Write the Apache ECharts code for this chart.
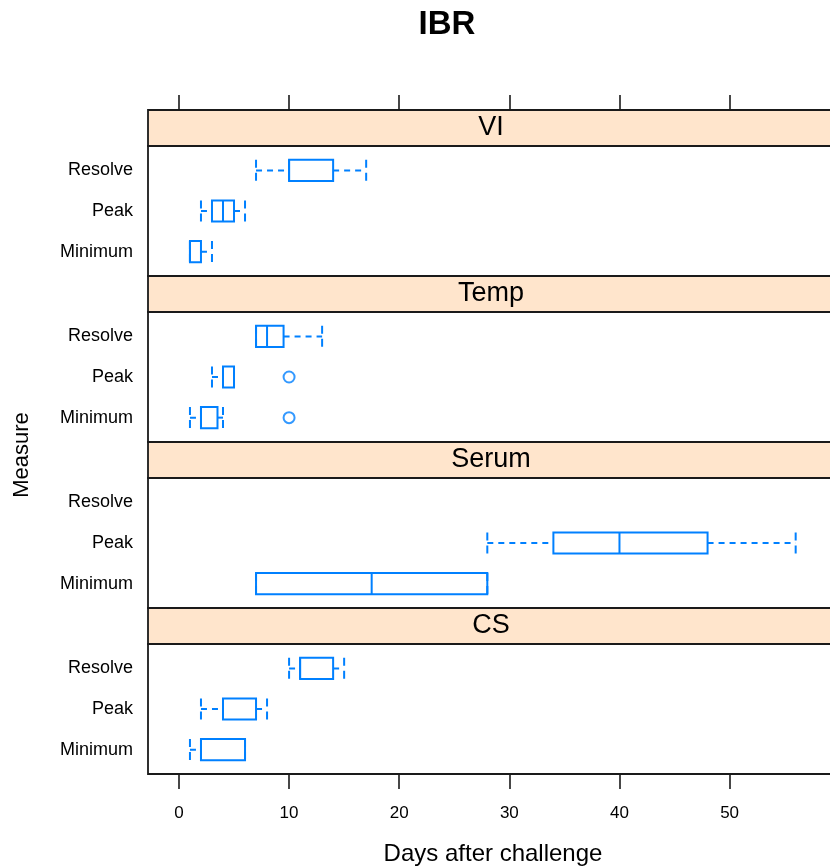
<!DOCTYPE html>
<html>
<head>
	<meta charset="UTF-8">
	<title>IBR</title>
	<script type="text/javascript" src="https://cdn.jsdelivr.net/npm/echarts@6.0.0/dist/echarts.min.js"></script>
	<style type="text/css">
		html,body{margin:0; padding:0; background:#fff;}
		#chart1{width:830px; height:868px;}
	</style>
</head>
<body>
	<div id="chart1"></div>
	<script type="text/javascript">
		// panels top to bottom, measures bottom to top (y = 1,2,3)
		const panels = ['VI', 'Temp', 'Serum', 'CS'];
		const measures = ['Minimum', 'Peak', 'Resolve'];
		const xTicks = [0, 10, 20, 30, 40, 50];

		// [min, q1, median, q3, max] per measure, null = no data
		const viStats = [[1, 1, 1, 2, 3], [2, 3, 4, 5, 6], [7, 10, 10, 14, 17]];
		const tempStats = [[1, 2, 2, 3.5, 4], [3, 4, 4, 5, 5], [7, 7, 8, 9.5, 13]];
		const serumStats = [[7, 7, 17.5, 28, 28], [28, 34, 40, 48, 56], null];
		const csStats = [[1, 2, 2, 6, 6], [2, 4, 4, 7, 8], [10, 11, 11, 14, 15]];
		// outliers: [day, measure]
		const tempOutliers = [[10, 'Minimum'], [10, 'Peak']];

		const allStats = [viStats, tempStats, serumStats, csStats];

		const blue = '#0080ff';
		const gridLeft = 148, gridWidth = 686;
		const top0 = 110, stripH = 36, panelH = 130;
		const xMin = -2.81, xMax = 59.48;

		let myChart = echarts.init(document.getElementById('chart1'));

		let grids = [], xAxes = [], yAxes = [], series = [], graphics = [];

		panels.forEach(function(name, p){
			let stripTop = top0 + p * (stripH + panelH);
			// panel grid
			grids.push({left: gridLeft, width: gridWidth, top: stripTop + stripH, height: panelH,
				outerBoundsMode: 'none', containLabel: false,
				show: true, borderColor: '#1a1a1a', borderWidth: 1.8, backgroundColor: '#fff'});
			xAxes.push({
				type: 'value', gridIndex: p, min: xMin, max: xMax,
				axisLine: {show: false, onZero: false}, splitLine: {show: false},
				axisTick: {show: p === 3, length: 15, customValues: xTicks, lineStyle: {color: '#1a1a1a', width: 1.6}},
				axisLabel: {show: p === 3, customValues: xTicks, margin: 31, fontSize: 17, color: '#000', fontFamily: 'Liberation Sans'}
			});
			yAxes.push({
				type: 'value', gridIndex: p, min: 0.4, max: 3.6,
				axisLine: {show: false, onZero: false}, splitLine: {show: false}, axisTick: {show: false},
				axisLabel: {customValues: [1, 2, 3], margin: 15, fontSize: 18, color: '#000', fontFamily: 'Liberation Sans',
					formatter: function(v){ return measures[Math.round(v) - 1]; }}
			});
		});

		panels.forEach(function(name, p){
			let stripTop = top0 + p * (stripH + panelH);
			// strip grid
			grids.push({left: gridLeft, width: gridWidth, top: stripTop, height: stripH,
				outerBoundsMode: 'none', containLabel: false,
				show: true, borderColor: '#1a1a1a', borderWidth: 1.8, backgroundColor: '#ffe5cc'});
			xAxes.push({
				type: 'value', gridIndex: 4 + p, min: xMin, max: xMax, position: 'top',
				show: p === 0,
				axisLine: {show: false, onZero: false}, splitLine: {show: false},
				axisTick: {show: true, inside: false, length: 15, customValues: xTicks, lineStyle: {color: '#1a1a1a', width: 1.6}},
				axisLabel: {show: false}
			});
			yAxes.push({type: 'value', gridIndex: 4 + p, min: 0, max: 1, show: false, axisLine: {onZero: false}});
			graphics.push({
				type: 'text', x: gridLeft + gridWidth / 2, y: stripTop + stripH / 2,
				style: {text: name, fontSize: 27, fontFamily: 'Liberation Sans', fill: '#000',
					align: 'center', verticalAlign: 'middle'}
			});
		});

		function renderBox(params, api){
			let y = api.value(0);
			let pts = [1, 2, 3, 4, 5].map(function(i){ return api.coord([api.value(i), y]); });
			let h = api.size([0, 1])[1] * 0.52;
			let cy = pts[0][1];
			let solid = {stroke: blue, lineWidth: 2, fill: null};
			let dash = {stroke: blue, lineWidth: 2, lineDash: [6, 5]};
			let staple = {stroke: blue, lineWidth: 2, lineDash: [8, 5]};
			let kids = [];
			if(pts[1][0] > pts[0][0]){
				kids.push({type: 'line', shape: {x1: pts[0][0], y1: cy, x2: pts[1][0], y2: cy}, style: dash});
			}
			if(pts[4][0] > pts[3][0]){
				kids.push({type: 'line', shape: {x1: pts[3][0], y1: cy, x2: pts[4][0], y2: cy}, style: dash});
			}
			kids.push({type: 'line', shape: {x1: pts[0][0], y1: cy - h / 2, x2: pts[0][0], y2: cy + h / 2}, style: staple});
			kids.push({type: 'line', shape: {x1: pts[4][0], y1: cy - h / 2, x2: pts[4][0], y2: cy + h / 2}, style: staple});
			kids.push({type: 'rect', shape: {x: pts[1][0], y: cy - h / 2, width: pts[3][0] - pts[1][0], height: h}, style: solid});
			kids.push({type: 'line', shape: {x1: pts[2][0], y1: cy - h / 2, x2: pts[2][0], y2: cy + h / 2}, style: solid});
			return {type: 'group', children: kids};
		}

		allStats.forEach(function(stats, p){
			let data = [];
			stats.forEach(function(s, i){
				if(s) data.push([i + 1].concat(s));
			});
			series.push({
				type: 'custom', xAxisIndex: p, yAxisIndex: p,
				renderItem: renderBox,
				encode: {x: [1, 2, 3, 4, 5], y: 0},
				data: data, silent: true
			});
		});

		series.push({
			type: 'scatter', xAxisIndex: 1, yAxisIndex: 1,
			symbol: 'emptyCircle', symbolSize: 11,
			itemStyle: {color: blue, borderColor: blue, borderWidth: 2},
			data: tempOutliers.map(function(o){ return [o[0], measures.indexOf(o[1]) + 1]; }),
			silent: true
		});

		graphics.push({
			type: 'text', x: 447, y: 25,
			style: {text: 'IBR', fontSize: 33, fontWeight: 'bold', fontFamily: 'Liberation Sans', fill: '#000',
				align: 'center', verticalAlign: 'middle'}
		});
		graphics.push({
			type: 'text', x: 22, y: 455, rotation: Math.PI / 2,
			style: {text: 'Measure', fontSize: 22, fontFamily: 'Liberation Sans', fill: '#000',
				align: 'center', verticalAlign: 'middle'}
		});
		graphics.push({
			type: 'text', x: gridLeft + gridWidth / 2 + 2, y: 854,
			style: {text: 'Days after challenge', fontSize: 24, fontFamily: 'Liberation Sans', fill: '#000',
				align: 'center', verticalAlign: 'middle'}
		});

		let option = {
			animation: false,
			grid: grids,
			xAxis: xAxes,
			yAxis: yAxes,
			series: series,
			graphic: graphics
		};
		myChart.setOption(option);
	</script>
</body>
</html>
